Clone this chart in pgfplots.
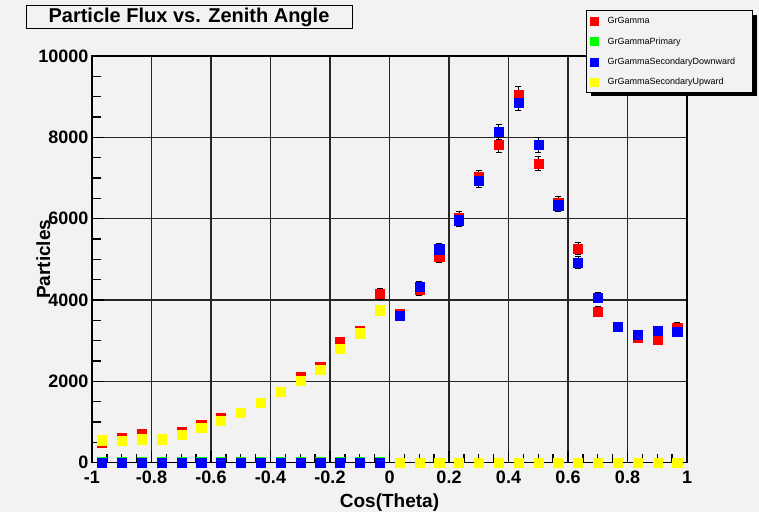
\documentclass[border=0pt]{standalone}
\usepackage{fontspec}
\setmainfont{Liberation Sans}
\usepackage{pgfplots}
\usepackage{pgfplotstable}
\pgfplotsset{compat=1.18}
\definecolor{bg}{RGB}{242,242,242}
\definecolor{rred}{RGB}{255,0,0}
\definecolor{rgreen}{RGB}{0,255,0}
\definecolor{rblue}{RGB}{0,0,255}
\definecolor{ryellow}{RGB}{255,255,0}

\pgfplotstableread{
x y e
-0.9667 500 45
-0.9 610 50
-0.8333 715 55
-0.7667 580 48
-0.7 760 55
-0.6333 940 60
-0.5667 1100 66
-0.5 1220 70
-0.4333 1465 77
-0.3667 1745 84
-0.3 2110 92
-0.2333 2345 97
-0.1667 2960 109
-0.1 3245 114
-0.0333 4150 129
0.0333 3655 121
0.1 4250 130
0.1667 5060 142
0.2333 6020 155
0.3 7020 168
0.3667 7810 177
0.4333 9050 190
0.5 7350 171
0.5667 6380 160
0.6333 5260 145
0.7 3720 122
0.7667 3340 116
0.8333 3070 111
0.9 3030 110
0.9667 3320 115
}\gamma

\pgfplotstableread{
x y
-0.9667 20
-0.9 20
-0.8333 20
-0.7667 20
-0.7 20
-0.6333 20
-0.5667 20
-0.5 20
-0.4333 20
-0.3667 20
-0.3 20
-0.2333 20
-0.1667 20
-0.1 20
-0.0333 20
0.0333 0
0.1 0
0.1667 0
0.2333 0
0.3 0
0.3667 0
0.4333 0
0.5 0
0.5667 0
0.6333 0
0.7 0
0.7667 0
0.8333 0
0.9 0
0.9667 0
}\primary

\pgfplotstableread{
x y
-0.9667 0
-0.9 0
-0.8333 0
-0.7667 0
-0.7 0
-0.6333 0
-0.5667 0
-0.5 0
-0.4333 0
-0.3667 0
-0.3 0
-0.2333 0
-0.1667 0
-0.1 0
-0.0333 0
}\downneg

\pgfplotstableread{
x y e
0.0333 3610 120
0.1 4320 131
0.1667 5250 145
0.2333 5960 154
0.3 6930 166
0.3667 8140 180
0.4333 8850 188
0.5 7810 177
0.5667 6330 159
0.6333 4920 140
0.7 4060 127
0.7667 3335 115
0.8333 3140 112
0.9 3245 114
0.9667 3220 113
}\downpos

\pgfplotstableread{
x y
-0.9667 550
-0.9 545
-0.8333 575
-0.7667 575
-0.7 690
-0.6333 860
-0.5667 1035
-0.5 1220
-0.4333 1465
-0.3667 1745
-0.3 2020
-0.2333 2280
-0.1667 2810
-0.1 3180
-0.0333 3750
0.0333 0
0.1 0
0.1667 0
0.2333 0
0.3 0
0.3667 0
0.4333 0
0.5 0
0.5667 0
0.6333 0
0.7 0
0.7667 0
0.8333 0
0.9 0
0.9667 0
}\up

\begin{document}
\begin{tikzpicture}
\useasboundingbox (0,0) rectangle (759pt,512pt);
\fill[bg] (0,0) rectangle (759pt,512pt);
\node[draw=black, line width=1pt, fill=bg, minimum width=326pt, minimum height=23pt, inner sep=0pt,
  font=\fontsize{20}{20}\bfseries\selectfont] at (189pt,494.5pt) {Particle Flux vs. Zenith Angle};
\begin{axis}[
  at={(92pt,49.5pt)}, anchor=south west,
  scale only axis, width=595pt, height=406.5pt,
  xmin=-1, xmax=1, ymin=0, ymax=10000,
  clip=false,
  axis background/.style={fill=bg},
  axis line style={line width=1.6pt, black},
  grid=major, major grid style={line width=1.3pt, black!85},
  xtick={-1,-0.8,-0.6,-0.4,-0.2,0,0.2,0.4,0.6,0.8,1},
  xticklabels={-1,-0.8,-0.6,-0.4,-0.2,0,0.2,0.4,0.6,0.8,1},
  ytick={0,2000,4000,6000,8000,10000},
  yticklabels={0,2000,4000,6000,8000,10000},
  scaled y ticks=false,
  minor x tick num=3, minor y tick num=3,
  tick align=inside, tick pos=left,
  major tick length=12pt, minor tick length=9pt,
  tick style={black, line width=1.3pt},
  ticklabel style={font=\fontsize{18}{18}\bfseries\selectfont},
  xticklabel style={yshift=-5pt},
  xlabel={Cos(Theta)}, ylabel={Particles},
  label style={font=\fontsize{19}{19}\bfseries\selectfont},
  xlabel style={at={(axis description cs:0.5,-0.099)}, anchor=center},
  ylabel style={at={(axis description cs:-0.082,0.5)}, anchor=center},
  legend style={at={(axis description cs:0.837,1.111)}, anchor=north west,
    draw=none, fill=none,
    font=\fontsize{9}{9}\selectfont,
    inner xsep=0pt, inner ysep=0pt, row sep=0pt,
    nodes={minimum height=20.4pt, inner ysep=0pt, inner xsep=2pt},
    /tikz/every odd column/.append style={column sep=7pt}},
  legend cell align=left,
]
\addplot[only marks, color=rred, mark=square*, mark size=4.6pt, mark options={draw=rred, fill=rred, line width=0.3pt},
  legend image code/.code={\fill[rred] (0pt,-4pt) rectangle (8pt,4pt);},
  error bars/.cd, y dir=both, y explicit,
  error bar style={black, line width=0.8pt},
  error mark options={black, rotate=90, mark size=3pt, line width=0.8pt}]
  table[x=x, y=y, y error=e] {\gamma};
\addlegendentry{GrGamma}
\addplot[only marks, color=rgreen, mark=square*, mark size=4.6pt, mark options={draw=rgreen, fill=rgreen, line width=0.3pt},
  legend image code/.code={\fill[rgreen] (0pt,-4pt) rectangle (8pt,4pt);}]
  table[x=x, y=y] {\primary};
\addlegendentry{GrGammaPrimary}
\addplot[only marks, color=rblue, mark=square*, mark size=4.6pt, mark options={draw=rblue, fill=rblue, line width=0.3pt},
  legend image code/.code={\fill[rblue] (0pt,-4pt) rectangle (8pt,4pt);},
  error bars/.cd, y dir=both, y explicit,
  error bar style={black, line width=0.8pt},
  error mark options={black, rotate=90, mark size=3pt, line width=0.8pt}]
  table[x=x, y=y, y error=e] {\downpos};
\addlegendentry{GrGammaSecondaryDownward}
\addplot[only marks, color=rblue, mark=square*, mark size=4.6pt, mark options={draw=rblue, fill=rblue, line width=0.3pt}, forget plot]
  table[x=x, y=y] {\downneg};
\addplot[only marks, color=ryellow, mark=square*, mark size=4.6pt, mark options={draw=ryellow, fill=ryellow, line width=0.3pt},
  legend image code/.code={\fill[ryellow] (0pt,-4pt) rectangle (8pt,4pt);}]
  table[x=x, y=y] {\up};
\addlegendentry{GrGammaSecondaryUpward}
% legend frame with drop shadow, drawn above the plot area
\fill[black] (axis description cs:0.8387,0.9016) rectangle (axis description cs:1.1176,1.1016);
\filldraw[fill=bg, draw=black, line width=1pt] (axis description cs:0.8319,0.9114) rectangle (axis description cs:1.1109,1.1114);
\end{axis}
\end{tikzpicture}
\end{document}
